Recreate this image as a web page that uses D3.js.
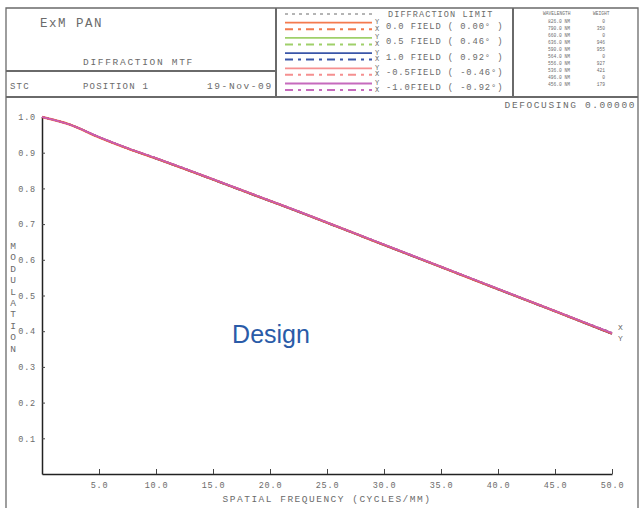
<!DOCTYPE html>
<html>
<head>
<meta charset="utf-8">
<script src="https://cdn.jsdelivr.net/npm/d3@7"></script>
<style>
  body { margin: 0; background: #fff; }
  svg text { font-family: "Liberation Mono", "DejaVu Sans Mono", monospace; fill: #6b6b6b; }
</style>
</head>
<body>
<svg id="chart" width="644" height="508"></svg>
<script>
// spatial frequency samples (cycles/mm)
const freq = [0, 2.5, 5, 7.5, 10, 12.5, 15, 17.5, 20, 22.5, 25, 27.5, 30, 32.5, 35, 37.5, 40, 42.5, 45, 47.5, 50];

// all fields sit on top of each other
const diffLimit = [1.0, 0.979, 0.945, 0.914, 0.886, 0.857, 0.827, 0.797, 0.767, 0.737, 0.706, 0.675, 0.644, 0.613, 0.582, 0.551, 0.520, 0.489, 0.458, 0.427, 0.397];
const field00T = [1.0, 0.978, 0.943, 0.912, 0.884, 0.855, 0.825, 0.795, 0.765, 0.735, 0.704, 0.673, 0.642, 0.611, 0.580, 0.549, 0.518, 0.487, 0.456, 0.425, 0.393];
const field00S = [1.0, 0.978, 0.943, 0.912, 0.884, 0.855, 0.825, 0.795, 0.765, 0.735, 0.704, 0.673, 0.642, 0.611, 0.580, 0.549, 0.518, 0.487, 0.456, 0.425, 0.393];
const field05T = [1.0, 0.978, 0.943, 0.912, 0.884, 0.855, 0.825, 0.795, 0.765, 0.735, 0.704, 0.673, 0.642, 0.611, 0.580, 0.549, 0.518, 0.487, 0.456, 0.425, 0.394];
const field05S = [1.0, 0.978, 0.943, 0.912, 0.884, 0.855, 0.825, 0.795, 0.765, 0.735, 0.704, 0.673, 0.642, 0.611, 0.580, 0.549, 0.518, 0.487, 0.456, 0.425, 0.394];
const field10T = [1.0, 0.978, 0.943, 0.912, 0.883, 0.854, 0.824, 0.794, 0.764, 0.734, 0.703, 0.672, 0.641, 0.610, 0.579, 0.548, 0.517, 0.486, 0.455, 0.424, 0.392];
const field10S = [1.0, 0.978, 0.943, 0.912, 0.883, 0.854, 0.824, 0.794, 0.764, 0.734, 0.703, 0.672, 0.641, 0.610, 0.579, 0.548, 0.517, 0.486, 0.455, 0.424, 0.392];
const fieldM05T = [1.0, 0.978, 0.943, 0.912, 0.884, 0.855, 0.825, 0.795, 0.765, 0.735, 0.704, 0.673, 0.642, 0.611, 0.580, 0.549, 0.518, 0.487, 0.456, 0.425, 0.394];
const fieldM05S = [1.0, 0.978, 0.943, 0.912, 0.884, 0.855, 0.825, 0.795, 0.765, 0.735, 0.704, 0.673, 0.642, 0.611, 0.580, 0.549, 0.518, 0.487, 0.456, 0.425, 0.394];
const fieldM10T = [1.0, 0.978, 0.944, 0.913, 0.885, 0.856, 0.826, 0.796, 0.766, 0.736, 0.705, 0.674, 0.643, 0.612, 0.581, 0.550, 0.519, 0.488, 0.457, 0.426, 0.395];
const fieldM10S = [1.0, 0.978, 0.944, 0.913, 0.885, 0.856, 0.826, 0.796, 0.766, 0.736, 0.705, 0.674, 0.643, 0.612, 0.581, 0.550, 0.519, 0.488, 0.457, 0.426, 0.395];

const fieldLabels = ["0.0 FIELD ( 0.00\u00b0 )", "0.5 FIELD ( 0.46\u00b0 )", "1.0 FIELD ( 0.92\u00b0 )", "-0.5FIELD ( -0.46\u00b0)", "-1.0FIELD ( -0.92\u00b0)"];
const fieldColors = ["#f47a4e", "#9fd06a", "#3a56a8", "#f59090", "#c66bbd"];
const fieldT = [field00T, field05T, field10T, fieldM05T, fieldM10T];
const fieldS = [field00S, field05S, field10S, fieldM05S, fieldM10S];

const wavelengths = ["826.0 NM", "790.0 NM", "660.0 NM", "636.0 NM", "590.0 NM", "564.0 NM", "556.0 NM", "536.0 NM", "496.0 NM", "456.0 NM"];
const weights = ["0", "350", "0", "946", "955", "0", "927", "421", "0", "179"];

const xTicks = [5, 10, 15, 20, 25, 30, 35, 40, 45, 50];
const yTicks = [0.1, 0.2, 0.3, 0.4, 0.5, 0.6, 0.7, 0.8, 0.9, 1.0];

const svg = d3.select('#chart');

// ---- frame and header boxes
const frame = svg.append('g').attr('fill', 'none').attr('stroke', '#6a6a6a');
frame.append('path').attr('d', 'M6,510 V8 H638 V510').attr('stroke-width', 1.3);
frame.append('line').attr('x1', 6).attr('x2', 276).attr('y1', 71).attr('y2', 71).attr('stroke-width', 2);
frame.append('line').attr('x1', 6).attr('x2', 638).attr('y1', 97).attr('y2', 97).attr('stroke-width', 2);
frame.append('line').attr('x1', 276).attr('x2', 276).attr('y1', 8).attr('y2', 97).attr('stroke-width', 2);
frame.append('line').attr('x1', 513).attr('x2', 513).attr('y1', 8).attr('y2', 97).attr('stroke-width', 2);

const hdr = svg.append('g');
hdr.append('text').attr('x', 40).attr('y', 27).attr('font-size', 12.5).attr('letter-spacing', 1.5).text('ExM PAN');
hdr.append('text').attr('x', 83).attr('y', 65).attr('font-size', 9.5).attr('letter-spacing', 1.7).text('DIFFRACTION MTF');
hdr.append('text').attr('x', 10).attr('y', 89).attr('font-size', 9).attr('letter-spacing', 1.2).text('STC');
hdr.append('text').attr('x', 83).attr('y', 89).attr('font-size', 9).attr('letter-spacing', 1.2).text('POSITION 1');
hdr.append('text').attr('x', 207).attr('y', 89).attr('font-size', 9.5).attr('letter-spacing', 1.6).text('19-Nov-09');
hdr.append('text').attr('x', 636).attr('y', 108).attr('text-anchor', 'end').attr('font-size', 9.5).attr('letter-spacing', 1.6).text('DEFOCUSING 0.00000');

// ---- legend
const leg = svg.append('g');
leg.append('line').attr('x1', 285).attr('x2', 372).attr('y1', 14).attr('y2', 14)
  .attr('stroke', '#444').attr('stroke-width', 0.8).attr('stroke-dasharray', '3,4');
leg.append('text').attr('x', 388).attr('y', 17).attr('font-size', 8.5).attr('letter-spacing', 1.1).text('DIFFRACTION LIMIT');
fieldLabels.forEach((lab, i) => {
  const y0 = 22.7 + i * 15.2;
  leg.append('line').attr('x1', 285).attr('x2', 372).attr('y1', y0).attr('y2', y0)
    .attr('stroke', fieldColors[i]).attr('stroke-width', 1.8);
  leg.append('line').attr('x1', 285).attr('x2', 372).attr('y1', y0 + 6.5).attr('y2', y0 + 6.5)
    .attr('stroke', fieldColors[i]).attr('stroke-width', 2).attr('stroke-dasharray', '8,5,3,5');
  leg.append('text').attr('x', 377).attr('y', y0 + 1.5).attr('text-anchor', 'middle').attr('font-size', 7).text('Y');
  leg.append('text').attr('x', 377).attr('y', y0 + 8).attr('text-anchor', 'middle').attr('font-size', 7).text('X');
  leg.append('text').attr('x', 386).attr('y', y0 + 6.5).attr('font-size', 8.8).attr('letter-spacing', 0.9).text(lab);
});

// ---- wavelength table
const wt = svg.append('g').attr('font-size', 4.6);
wt.append('text').attr('x', 543).attr('y', 15).text('WAVELENGTH');
wt.append('text').attr('x', 593).attr('y', 15).text('WEIGHT');
wavelengths.forEach((w, i) => {
  wt.append('text').attr('x', 548).attr('y', 22.5 + i * 7).text(w);
  wt.append('text').attr('x', 605).attr('y', 22.5 + i * 7).attr('text-anchor', 'end').text(weights[i]);
});

// ---- plot
const x = d3.scaleLinear().domain([0, 50]).range([42, 612]);
const y = d3.scaleLinear().domain([0, 1]).range([474, 117]);

const xAxis = svg.append('g').attr('transform', `translate(0,${y(0)})`)
  .call(d3.axisBottom(x).tickValues(xTicks).tickFormat(d3.format('.1f')).tickSize(-5).tickSizeOuter(0).tickPadding(8));
const yAxis = svg.append('g').attr('transform', `translate(${x(0)},0)`)
  .call(d3.axisLeft(y).tickValues(yTicks).tickFormat(d3.format('.1f')).tickSize(-3).tickSizeOuter(0).tickPadding(6));
[xAxis, yAxis].forEach(a => {
  a.select('.domain').attr('stroke', '#222').attr('stroke-width', 1.5);
  a.selectAll('.tick line').attr('stroke', '#444');
  a.selectAll('.tick text').attr('font-family', '"Liberation Mono", monospace').attr('font-size', 8.5).attr('letter-spacing', 0.8).attr('fill', '#6b6b6b');
});
yAxis.selectAll('.tick').filter(d => d === 1.0).select('line').remove();

svg.append('text').attr('x', x(25)).attr('y', 502).attr('text-anchor', 'middle')
  .attr('font-size', 9.5).attr('letter-spacing', 1.5).text('SPATIAL FREQUENCY (CYCLES/MM)');

const modTxt = svg.append('text').attr('font-size', 9.5).attr('text-anchor', 'middle');
'MODULATION'.split('').forEach((ch, i) => {
  modTxt.append('tspan').attr('x', 13).attr('y', 249 + i * 11.4).text(ch);
});

const line = d3.line().x((d, i) => x(freq[i])).y(d => y(d)).curve(d3.curveMonotoneX);

const curves = svg.append('g').attr('fill', 'none');
curves.append('path').attr('d', line(diffLimit)).attr('stroke', '#333').attr('stroke-width', 1).attr('stroke-dasharray', '3,4');
fieldT.forEach((vals, i) => {
  curves.append('path').attr('d', line(vals)).attr('stroke', fieldColors[i]).attr('stroke-width', 1.6);
  curves.append('path').attr('d', line(fieldS[i])).attr('stroke', fieldColors[i]).attr('stroke-width', 1.6).attr('stroke-dasharray', '7,4,2,4');
});
// top-most traces as they show in the plot
curves.append('path').attr('d', line(field00T)).attr('stroke', '#f2553a').attr('stroke-width', 2.4).attr('opacity', 0.75);
curves.append('path').attr('d', line(fieldM10T)).attr('stroke', '#c45fbb').attr('stroke-width', 1.4);

svg.append('text').attr('x', x(50) + 6).attr('y', y(diffLimit[20]) - 2).attr('font-size', 8).text('X');
svg.append('text').attr('x', x(50) + 6).attr('y', y(field00T[20]) + 7).attr('font-size', 8).text('Y');

svg.append('text').attr('x', 271).attr('y', 343).attr('text-anchor', 'middle')
  .style('font-family', 'Arial, "Liberation Sans", sans-serif').style('fill', '#2a5ba8')
  .attr('font-size', 25).text('Design');
</script>
</body>
</html>
